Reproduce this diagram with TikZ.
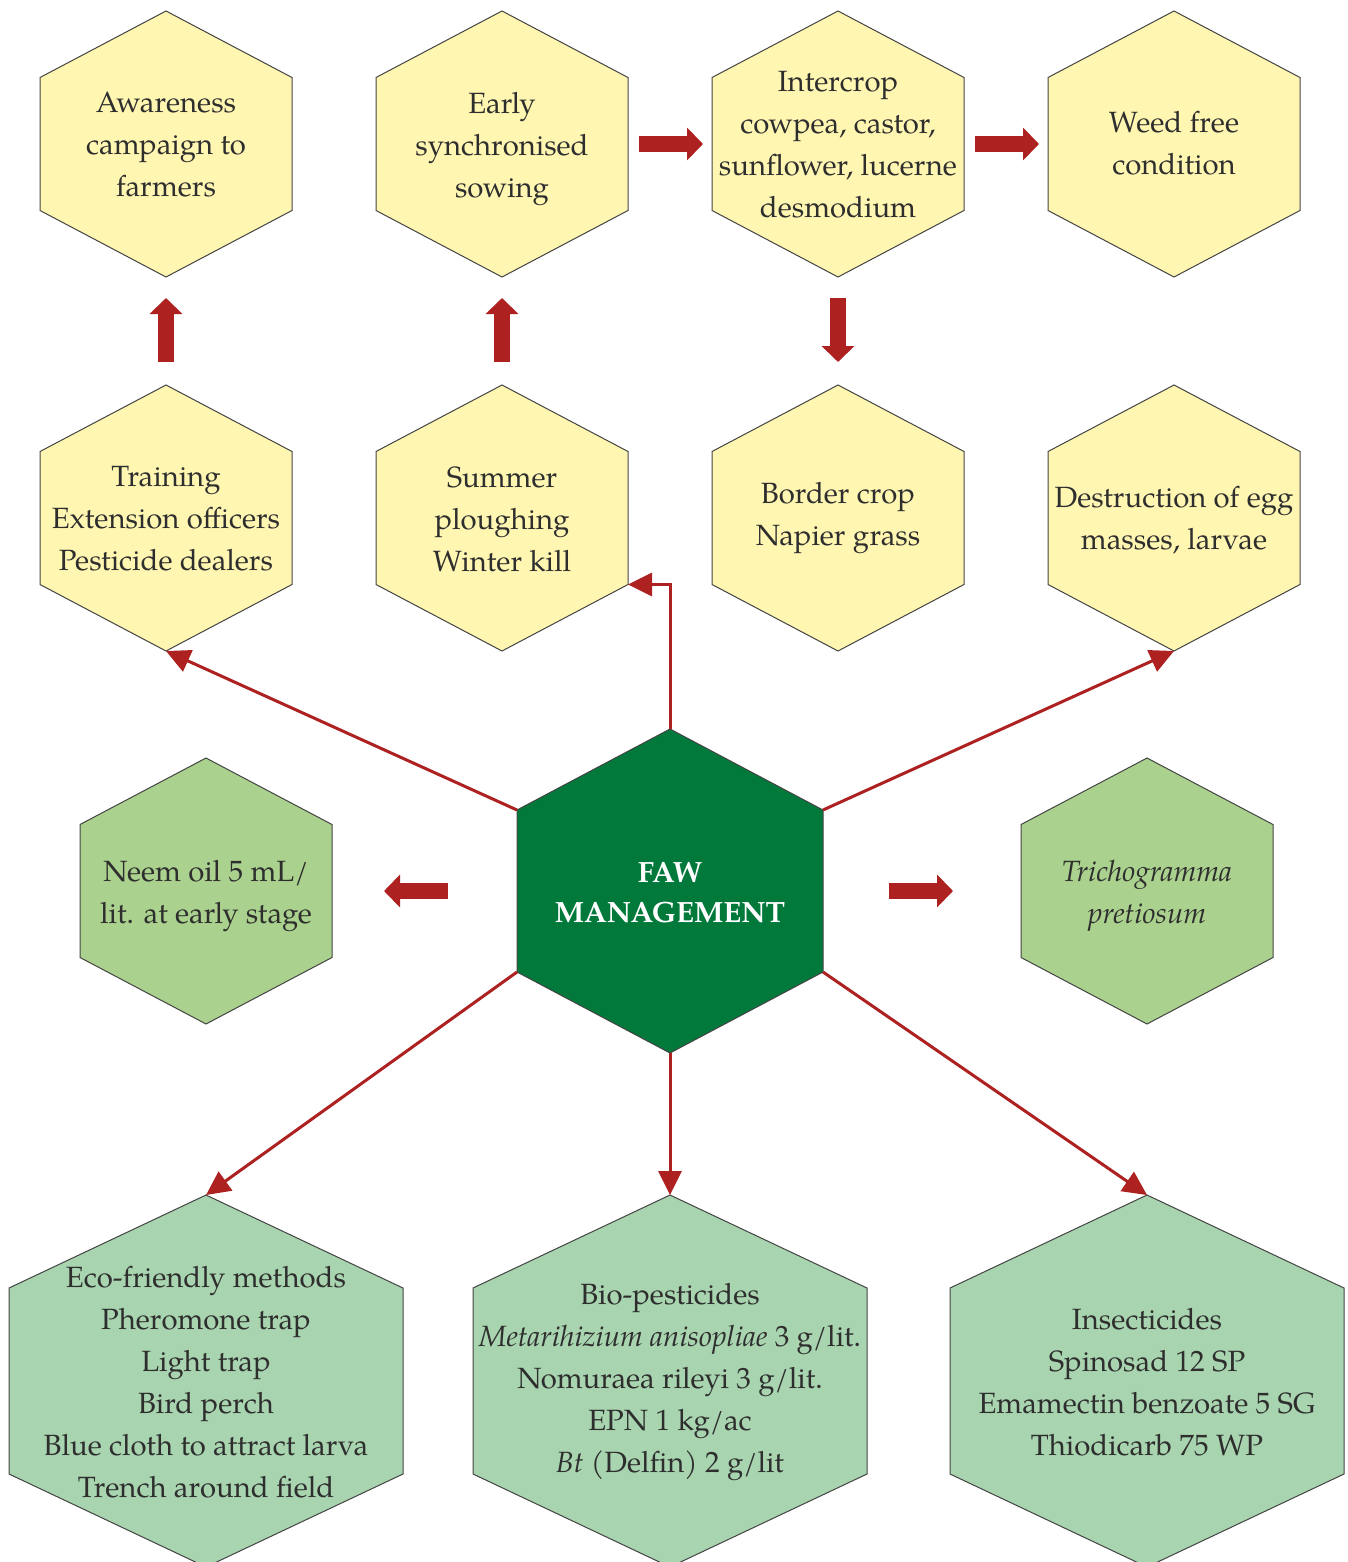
\documentclass[tikz,border=0pt]{standalone}
\usepackage{fontspec}
\setmainfont{TeX Gyre Pagella}
\usetikzlibrary{arrows.meta}
\definecolor{hexyellow}{HTML}{FFF6B2}
\definecolor{hexlgreen}{HTML}{AAD18D}
\definecolor{hexbgreen}{HTML}{A8D4AF}
\definecolor{fawgreen}{HTML}{00793B}
\definecolor{arrowred}{HTML}{AE2121}
\definecolor{txtgray}{HTML}{2E2E2E}
\definecolor{edgegray}{HTML}{444444}
% [node options], name, cx, cy, half width, half height, style, text
\newcommand\hexnode[8][]{%
  \path[#7] (#3,#4-#6) coordinate (#2-t)
    -- (#3+#5,#4-#6/2) coordinate (#2-tr)
    -- (#3+#5,#4+#6/2) coordinate (#2-br)
    -- (#3,#4+#6) coordinate (#2-b)
    -- (#3-#5,#4+#6/2) coordinate (#2-bl)
    -- (#3-#5,#4-#6/2) coordinate (#2-tl)
    -- cycle;
  \node[txt,#1] (#2) at (#3,#4) {#8};
}
\begin{document}
\begin{tikzpicture}[x=1pt,y=-1pt,
  hexyel/.style={fill=hexyellow,draw=edgegray,line width=1pt},
  hexlg/.style={fill=hexlgreen,draw=edgegray,line width=1pt},
  hexbg/.style={fill=hexbgreen,draw=edgegray,line width=1pt},
  hexfaw/.style={fill=fawgreen,draw=edgegray,line width=1pt},
  txt/.style={font=\fontsize{29.3}{42}\selectfont,text=txtgray,align=center,inner sep=0pt,
    execute at begin node=\strut, execute at end node=\strut, yshift=-7pt},
  blockarrow/.style={draw=arrowred,line width=16.5pt,-{Triangle[width=32pt,length=16pt,fill=arrowred]}},
  thinarrow/.style={draw=arrowred,line width=3pt,-{Triangle[width=23pt,length=24pt,fill=arrowred]}}]
\clip (0,0) rectangle (1347,1562);
\fill[white] (0,0) rectangle (1347,1562);

% top row
\hexnode{aware}{166}{144}{126}{133}{hexyel}{Awareness\\campaign to\\farmers}
\hexnode{early}{502}{144}{126}{133}{hexyel}{Early\\synchronised\\sowing}
\hexnode{inter}{838}{144}{126}{133}{hexyel}{Intercrop\\cowpea, castor,\\sunflower, lucerne\\desmodium}
\hexnode[yshift=2pt]{weed}{1174}{144}{126}{133}{hexyel}{Weed free\\condition}
% second row
\hexnode{train}{166}{518}{126}{133}{hexyel}{Training\\Extension officers\\Pesticide dealers}
\hexnode{summer}{502}{518}{126}{133}{hexyel}{Summer\\ploughing\\Winter kill}
\hexnode[yshift=5pt]{border}{838}{518}{126}{133}{hexyel}{Border crop\\Napier grass}
\hexnode[yshift=1pt]{destr}{1174}{518}{126}{133}{hexyel}{Destruction of egg\\masses, larvae}
% middle row
\hexnode{neem}{206}{891}{126}{133}{hexlg}{Neem oil 5 mL/\\lit. at early stage}
\hexnode{tricho}{1147}{891}{126}{133}{hexlg}{\itshape Trichogramma\\\itshape pretiosum}
\path[hexfaw] (670,729) coordinate (faw-t) -- (823,810) coordinate (faw-tr)
  -- (823,972) coordinate (faw-br) -- (670,1053) coordinate (faw-b)
  -- (517,972) coordinate (faw-bl) -- (517,810) coordinate (faw-tl) -- cycle;
\node[txt,text=white,font=\fontsize{29.3}{40}\selectfont\bfseries] (faw) at (670,891) {FAW\\MANAGEMENT};
% bottom row
\hexnode{eco}{206}{1381}{197}{186}{hexbg}{Eco-friendly methods\\Pheromone trap\\Light trap\\Bird perch\\Blue cloth to attract larva\\Trench around field}
\hexnode[yshift=4pt]{bio}{670}{1381}{197}{186}{hexbg}{Bio-pesticides\\\textit{Metarihizium anisopliae} 3 g/lit.\\Nomuraea rileyi 3 g/lit.\\EPN 1 kg/ac\\\textit{Bt} (Delfin) 2 g/lit}
\hexnode{ins}{1147}{1381}{197}{186}{hexbg}{Insecticides\\Spinosad 12 SP\\Emamectin benzoate 5 SG\\Thiodicarb 75 WP}

% block arrows
\coordinate (u1s) at (166,362); \coordinate (u1e) at (166,298);
\coordinate (u2s) at (502,362); \coordinate (u2e) at (502,298);
\coordinate (d3s) at (838,298); \coordinate (d3e) at (838,362);
\coordinate (r1s) at (639,144); \coordinate (r1e) at (703,144);
\coordinate (r2s) at (975,144); \coordinate (r2e) at (1039,144);
\coordinate (lns) at (448,891); \coordinate (lne) at (384,891);
\coordinate (rts) at (889,891); \coordinate (rte) at (953,891);
\draw[blockarrow] (u1s) -- (u1e);
\draw[blockarrow] (u2s) -- (u2e);
\draw[blockarrow] (d3s) -- (d3e);
\draw[blockarrow] (r1s) -- (r1e);
\draw[blockarrow] (r2s) -- (r2e);
\draw[blockarrow] (lns) -- (lne);
\draw[blockarrow] (rts) -- (rte);

% thin arrows
\draw[thinarrow] (faw-tl) -- (train-b);
\draw[thinarrow] (faw-t) |- (summer-br);
\draw[thinarrow] (faw-tr) -- (destr-b);
\draw[thinarrow] (faw-bl) -- (eco-t);
\draw[thinarrow] (faw-b) -- (bio-t);
\draw[thinarrow] (faw-br) -- (ins-t);
\end{tikzpicture}
\end{document}
